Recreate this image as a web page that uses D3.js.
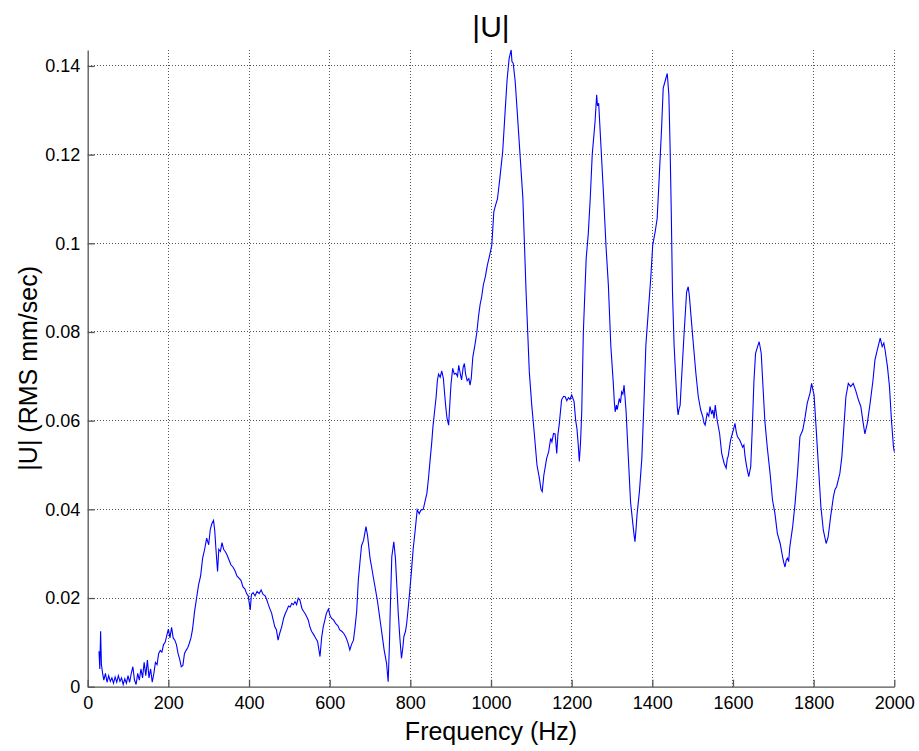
<!DOCTYPE html>
<html>
<head>
<meta charset="utf-8">
<script src="https://cdn.jsdelivr.net/npm/d3@7"></script>
<style>
  html, body { margin: 0; padding: 0; background: #fff; }
  svg { display: block; font-family: Arial, "Liberation Sans", Helvetica, sans-serif; }
</style>
</head>
<body>
<svg id="chart" width="919" height="751"></svg>
<script>
// ---- data ----
const freq = [28,30,32,34,37,40,44,48,52,56,60,64,68,72,76,80,84,88,92,96,100,104,108,112,116,120,124,128,132,136,140,144,148,152,156,160,164,168,172,176,180,184,188,192,196,200,204,208,212,216,220,224,228,232,236,240,244,248,252,256,260,265,270,275,280,285,290,295,300,304,308,312,315,318,322,325,329,333,337,341,345,350,355,360,365,370,375,380,385,390,394,398,403,406,410,415,420,425,430,435,440,444,448,452,456,460,464,468,472,476,481,486,490,494,498,502,506,510,514,518,522,526,531,535,539,543,547,551,555,560,565,570,576,580,584,588,592,597,601,605,610,615,620,625,630,635,640,645,650,654,659,663,667,671,675,679,684,690,694,700,704,708,713,718,722,726,731,735,741,745,748,750,754,759,763,767,770,774,778,781,784,788,791,795,799,803,807,812,817,822,826,832,837,841,845,849,853,856,860,864,867,870,874,878,882,885,888,891,895,898,901,905,909,913,917,920,924,927,931,934,937,941,945,948,951,955,960,965,969,973,977,981,986,991,996,1002,1007,1011,1016,1022,1029,1035,1040,1045,1050,1052,1055,1060,1065,1072,1079,1083,1087,1091,1095,1101,1107,1114,1120,1124,1127,1131,1138,1143,1148,1151,1155,1159,1163,1166,1169,1175,1180,1184,1188,1192,1196,1200,1206,1210,1213,1216,1219,1222,1225,1229,1236,1241,1246,1251,1258,1262,1264,1267,1272,1279,1285,1291,1297,1303,1306,1308,1311,1313,1318,1321,1324,1327,1330,1335,1341,1346,1352,1355,1357,1360,1362,1368,1374,1379,1384,1390,1396,1401,1407,1412,1417,1423,1427,1433,1437,1441,1444,1447,1450,1454,1459,1462,1464,1466,1469,1473,1479,1485,1489,1492,1495,1502,1508,1514,1520,1525,1528,1531,1536,1540,1543,1547,1550,1553,1556,1561,1567,1572,1578,1583,1586,1588,1594,1601,1605,1608,1611,1617,1624,1627,1630,1634,1639,1644,1648,1652,1656,1661,1665,1670,1674,1679,1685,1692,1698,1704,1710,1717,1723,1726,1729,1732,1735,1738,1741,1748,1754,1760,1766,1773,1779,1784,1791,1795,1798,1801,1806,1812,1818,1824,1831,1836,1842,1849,1853,1857,1865,1870,1875,1880,1886,1892,1898,1904,1911,1917,1922,1927,1933,1940,1947,1952,1958,1962,1965,1970,1974,1977,1983,1988,1993,1998,2000];
const amp = [0.008,0.004,0.0125,0.005,0.003,0.0015,0.003,0.001,0.0025,0.0012,0.002,0.0008,0.0022,0.001,0.0025,0.0012,0.002,0.0005,0.0018,0.0008,0.0025,0.001,0.003,0.0045,0.0015,0.0005,0.003,0.0015,0.004,0.002,0.0055,0.0025,0.006,0.002,0.004,0.001,0.003,0.0055,0.005,0.0075,0.0082,0.0078,0.0095,0.010,0.0115,0.013,0.011,0.0134,0.011,0.0105,0.0095,0.0075,0.0062,0.0045,0.0048,0.0075,0.0082,0.0088,0.0098,0.011,0.013,0.017,0.020,0.023,0.025,0.029,0.031,0.0335,0.032,0.0355,0.0368,0.0375,0.0352,0.031,0.026,0.031,0.0305,0.0325,0.031,0.0305,0.0298,0.0287,0.0275,0.027,0.0262,0.025,0.0245,0.024,0.0225,0.022,0.021,0.0205,0.0173,0.0208,0.0212,0.0205,0.0215,0.021,0.0218,0.0208,0.0205,0.0196,0.0185,0.0175,0.0166,0.015,0.0135,0.0128,0.0105,0.012,0.0135,0.0155,0.0165,0.0173,0.0182,0.018,0.0188,0.0185,0.0192,0.0185,0.020,0.0196,0.0177,0.017,0.0165,0.0158,0.015,0.0135,0.0125,0.0118,0.011,0.0102,0.0068,0.011,0.0135,0.015,0.0166,0.0175,0.016,0.0154,0.015,0.0142,0.0138,0.0128,0.0125,0.012,0.0112,0.010,0.0083,0.0095,0.0105,0.0135,0.017,0.024,0.028,0.0318,0.033,0.0361,0.034,0.029,0.027,0.0248,0.0222,0.0196,0.017,0.0143,0.011,0.0083,0.0053,0.0011,0.009,0.0166,0.0293,0.0327,0.029,0.022,0.0166,0.011,0.0064,0.0085,0.0113,0.0125,0.0143,0.018,0.022,0.0263,0.031,0.0353,0.0399,0.039,0.0398,0.040,0.042,0.0436,0.047,0.0511,0.055,0.0586,0.062,0.0654,0.069,0.0705,0.0698,0.0712,0.0695,0.066,0.063,0.0605,0.059,0.064,0.0684,0.0718,0.0705,0.0707,0.070,0.0725,0.0705,0.0692,0.072,0.0729,0.0705,0.069,0.0695,0.068,0.0695,0.0744,0.077,0.080,0.0835,0.0862,0.088,0.0906,0.0925,0.0951,0.097,0.0996,0.1071,0.1085,0.110,0.1147,0.1207,0.1297,0.137,0.1417,0.1436,0.141,0.1406,0.1365,0.1297,0.120,0.1102,0.0996,0.089,0.080,0.071,0.0635,0.0575,0.050,0.047,0.0445,0.044,0.0477,0.0515,0.053,0.056,0.0552,0.0571,0.057,0.0526,0.057,0.059,0.0647,0.0655,0.0654,0.0645,0.0652,0.0648,0.0658,0.0643,0.060,0.0583,0.055,0.0508,0.055,0.062,0.080,0.0966,0.1019,0.110,0.120,0.1274,0.1335,0.131,0.1316,0.123,0.111,0.0996,0.0906,0.077,0.0688,0.064,0.062,0.0635,0.0625,0.065,0.064,0.0665,0.066,0.068,0.062,0.0508,0.0417,0.0365,0.034,0.0327,0.036,0.0387,0.044,0.0515,0.0635,0.077,0.0846,0.092,0.0996,0.1026,0.1056,0.1147,0.126,0.135,0.137,0.1383,0.1335,0.122,0.107,0.089,0.077,0.068,0.063,0.0613,0.0625,0.0635,0.0703,0.080,0.089,0.0902,0.088,0.0846,0.077,0.0707,0.0654,0.0624,0.0609,0.0595,0.059,0.0617,0.061,0.0632,0.0615,0.0624,0.0605,0.0635,0.060,0.057,0.0526,0.0504,0.0493,0.0515,0.0519,0.0556,0.0579,0.0594,0.0575,0.0564,0.0556,0.054,0.0545,0.0519,0.0496,0.0474,0.0496,0.0586,0.069,0.0752,0.0767,0.0778,0.0752,0.0684,0.060,0.054,0.0481,0.0421,0.0391,0.0346,0.0323,0.0293,0.028,0.027,0.0285,0.029,0.0282,0.0316,0.0361,0.0414,0.0481,0.0564,0.0579,0.0609,0.0639,0.0662,0.0684,0.067,0.0658,0.0586,0.0496,0.0406,0.0353,0.0323,0.0338,0.0383,0.0428,0.0445,0.0451,0.0481,0.0519,0.0586,0.0654,0.0684,0.0677,0.0684,0.0669,0.0647,0.0632,0.060,0.057,0.0594,0.0639,0.069,0.0737,0.076,0.0775,0.0786,0.0767,0.0775,0.076,0.0722,0.0677,0.060,0.054,0.053];
const xTicks = [0,200,400,600,800,1000,1200,1400,1600,1800,2000];
const yTicks = [0,0.02,0.04,0.06,0.08,0.1,0.12,0.14];
const yTickLabels = ["0","0.02","0.04","0.06","0.08","0.1","0.12","0.14"];
const xDomain = [0, 2000];
const yDomain = [0, 0.1436];
const titleText = "|U|";
const xLabel = "Frequency (Hz)";
const yLabel = "|U| (RMS mm/sec)";

// ---- layout ----
const svg = d3.select("#chart");
const L = 87.7, R = 894.3, T = 50, B = 686.7;
const x = d3.scaleLinear().domain(xDomain).range([L, R]);
const y = d3.scaleLinear().domain(yDomain).range([B, T]);
const FONT = "Arial, 'Liberation Sans', Helvetica, sans-serif";

// grid
const grid = svg.append("g");
grid.selectAll("line.gx").data(xTicks.filter(d => d > 0)).join("line")
  .attr("x1", d => x(d)).attr("x2", d => x(d)).attr("y1", B).attr("y2", T)
  .attr("stroke", "#555").attr("stroke-width", 1).attr("stroke-dasharray", "1,2")
  .attr("shape-rendering", "crispEdges");
grid.selectAll("line.gy").data(yTicks.filter(d => d > 0)).join("line")
  .attr("y1", d => y(d)).attr("y2", d => y(d)).attr("x1", L).attr("x2", R)
  .attr("stroke", "#555").attr("stroke-width", 1).attr("stroke-dasharray", "1,2")
  .attr("shape-rendering", "crispEdges");

// data line
const line = d3.line().x((d, i) => x(freq[i])).y((d, i) => y(amp[i]));
svg.append("path").datum(amp)
  .attr("d", line).attr("fill", "none")
  .attr("stroke", "#0000ff").attr("stroke-width", 1.1).attr("stroke-linejoin", "miter");

// axes (ticks inward)
const xAxis = d3.axisBottom(x).tickValues(xTicks).tickFormat(d3.format("d"))
  .tickSizeInner(-7).tickSizeOuter(0).tickPadding(10);
const gx = svg.append("g").attr("transform", `translate(0,${B})`).call(xAxis);
const yAxis = d3.axisLeft(y).tickValues(yTicks).tickFormat((d, i) => yTickLabels[i])
  .tickSizeInner(-7).tickSizeOuter(0).tickPadding(7.5);
const gy = svg.append("g").attr("transform", `translate(${L},0)`).call(yAxis);
[gx, gy].forEach(g => {
  g.select(".domain").attr("stroke", "#555").attr("stroke-width", 1.3);
  g.selectAll(".tick line").attr("stroke", "#555").attr("stroke-width", 1.3);
  g.selectAll(".tick text").attr("fill", "#000").attr("font-size", 18).attr("font-family", FONT);
});

// title and labels
svg.append("text").attr("x", (L + R) / 2).attr("y", 37).attr("text-anchor", "middle")
  .attr("font-size", 30).attr("font-family", FONT).attr("fill", "#000").text(titleText);
svg.append("text").attr("x", (L + R) / 2).attr("y", 740).attr("text-anchor", "middle")
  .attr("font-size", 25).attr("font-family", FONT).attr("fill", "#000").text(xLabel);
svg.append("text").attr("transform", `translate(37,${(T + B) / 2}) rotate(-90)`)
  .attr("text-anchor", "middle").attr("font-size", 25).attr("font-family", FONT)
  .attr("fill", "#000").text(yLabel);
</script>
</body>
</html>
